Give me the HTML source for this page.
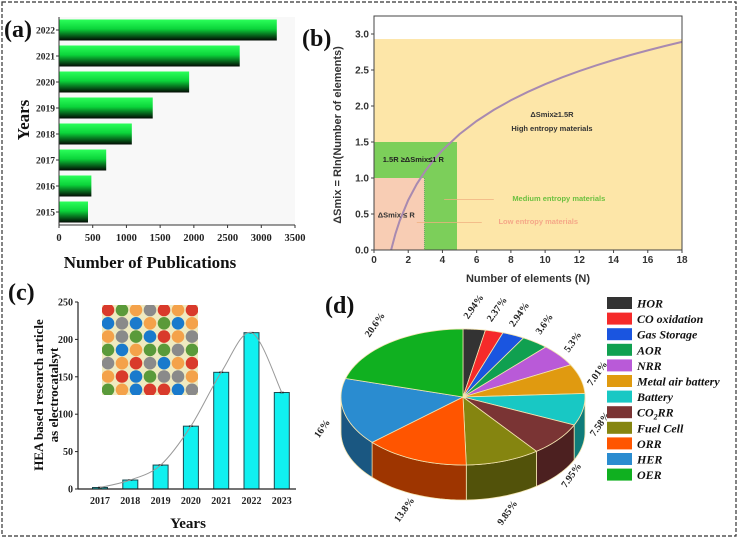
<!DOCTYPE html>
<html><head><meta charset="utf-8">
<style>
html,body{margin:0;padding:0;background:#fff;}
svg{display:block;}
.serif{font-family:"Liberation Serif",serif;font-weight:bold;}
.sans{font-family:"Liberation Sans",sans-serif;font-weight:bold;}
</style></head>
<body>
<svg id="fig" width="738" height="538" viewBox="0 0 738 538" xmlns="http://www.w3.org/2000/svg">
<defs>
<linearGradient id="gbar" x1="0" y1="0" x2="0" y2="1">
<stop offset="0" stop-color="#2bff5a"/><stop offset="0.45" stop-color="#0bd43a"/><stop offset="1" stop-color="#020a03"/>
</linearGradient>
</defs>
<rect x="2" y="2" width="734" height="534" fill="#fff" stroke="#333" stroke-width="1.2" stroke-dasharray="4,2"/>
<g id="pa"></g>
<g id="pb"></g>
<g id="pc"></g>
<g id="pd"></g>
</svg>
<script>
// ---- Panel (a) data
const aYears = ["2015","2016","2017","2018","2019","2020","2021","2022"];
const aValues = [430, 480, 700, 1080, 1390, 1930, 2680, 3230];
const aTicks = [0,500,1000,1500,2000,2500,3000,3500];
// ---- Panel (b) data
const bXTicks = [0,2,4,6,8,10,12,14,16,18];
const bYTicks = [0.0,0.5,1.0,1.5,2.0,2.5,3.0];
const bHighTop = 2.93;
const bMedium = [4.85, 1.5];
const bLow = [2.95, 1.0];
const bCurveN = [1,1.25,1.5,2,2.5,3,3.5,4,5,6,7,8,9,10,11,12,13,14,15,16,17,18];
// ---- Panel (c) data
const cYears = ["2017","2018","2019","2020","2021","2022","2023"];
const cValues = [2, 12, 32, 84, 156, 209, 129];
const cTicks = [0,50,100,150,200,250];
// ---- Panel (d) data
const dLabels = ["HOR","CO oxidation","Gas Storage","AOR","NRR","Metal air battery","Battery","CO2RR","Fuel Cell","ORR","HER","OER"];
const dValues = [2.94,2.37,2.94,3.6,5.3,7.01,7.58,7.95,9.85,13.8,16,20.6];
const dPctText = ["2.94%","2.37%","2.94%","3.6%","5.3%","7.01%","7.58%","7.95%","9.85%","13.8%","16%","20.6%"];
const dColors = ["#333333","#f52a2a","#1a55e0","#10a050","#b95ad8","#e09a10","#18c8c4","#7a3434","#858510","#ff5500","#2a8cd0","#10b020"];

const NS="http://www.w3.org/2000/svg";
function mk(parent, tag, attrs, text){
  const e=document.createElementNS(NS,tag);
  for(const k in attrs) e.setAttribute(k,attrs[k]);
  if(text!==undefined) e.textContent=text;
  parent.appendChild(e); return e;
}
function shade(hex,f){
  const n=parseInt(hex.slice(1),16);
  const r=Math.round(((n>>16)&255)*f),g=Math.round(((n>>8)&255)*f),b=Math.round((n&255)*f);
  return "rgb("+r+","+g+","+b+")";
}

// ================= Panel A =================
(function(){
  const g=document.getElementById('pa');
  const x0=59,x1=295,yTop=17,yBot=225;
  const xs=v=>x0+(v/3500)*(x1-x0);
  const n=aYears.length, step=(yBot-yTop)/n;
  const ys=i=>yBot-step*(i+0.5);
  let t=mk(g,'rect',{x:x0,y:yTop,width:x1-x0,height:yBot-yTop,fill:'#f8f8f8'});
   
  aValues.forEach((v,i)=>{
    const r=mk(g,'rect',{x:x0,y:ys(i)-10.5,width:xs(v)-x0,height:21,fill:'url(#gbar)'});
    
    
    const tl=mk(g,'text',{x:x0-4,y:ys(i)+3.5,'text-anchor':'end','font-size':'9.5',class:'serif',fill:'#222'},aYears[i]);
    
    
    mk(g,'line',{x1:x0-3,x2:x0,y1:ys(i),y2:ys(i),stroke:'#333'});
  });
  mk(g,'line',{x1:x0,x2:x0,y1:yTop,y2:yBot,stroke:'#333','stroke-width':1});
  mk(g,'line',{x1:x0,x2:x1,y1:yBot,y2:yBot,stroke:'#333','stroke-width':1});
  aTicks.forEach(v=>{
    mk(g,'line',{x1:xs(v),x2:xs(v),y1:yBot,y2:yBot+3,stroke:'#333'});
    const tl=mk(g,'text',{x:xs(v),y:yBot+16,'text-anchor':'middle','font-size':'10.5',class:'serif',fill:'#222'},v);
    
    
  });
  t=mk(g,'text',{x:150,y:268,'text-anchor':'middle','font-size':'17',class:'serif',fill:'#111'},'Number of Publications');
   
  t=mk(g,'text',{x:0,y:0,'text-anchor':'middle','font-size':'17',class:'serif',fill:'#111',transform:'translate(29,120) rotate(-90)'},'Years');
   
  t=mk(g,'text',{x:4,y:37,'font-size':'24',class:'serif',fill:'#111'},'(a)');
   
})();

// ================= Panel B =================
(function(){
  const g=document.getElementById('pb');
  const x0=374,x1=682,y0=250,yT=16;
  const xs=v=>x0+v*(x1-x0)/18;
  const ys=v=>y0-v*72;
  let t=mk(g,'rect',{x:x0,y:ys(bHighTop),width:x1-x0,height:y0-ys(bHighTop),fill:'#fde6a8'});
   
  t=mk(g,'rect',{x:x0,y:ys(bMedium[1]),width:xs(bMedium[0])-x0,height:y0-ys(bMedium[1]),fill:'#7ccf5a'});
   
  t=mk(g,'rect',{x:x0,y:ys(bLow[1]),width:xs(bLow[0])-x0,height:y0-ys(bLow[1]),fill:'#f8cdb4'});
   
  mk(g,'line',{x1:xs(bLow[0]),x2:xs(bLow[0]),y1:ys(bLow[1]),y2:y0,stroke:'#6a6',"stroke-dasharray":"1,1"});
  const pts=bCurveN.map(n=>xs(n)+','+ys(Math.log(n))).join(' ');
  t=mk(g,'polyline',{points:pts,fill:'none',stroke:'#a88ab0','stroke-width':2});
   
  mk(g,'rect',{x:x0,y:yT,width:x1-x0,height:y0-yT,fill:'none',stroke:'#444','stroke-width':1});
  bXTicks.forEach(v=>{
    mk(g,'line',{x1:xs(v),x2:xs(v),y1:y0,y2:y0+3,stroke:'#444'});
    const tl=mk(g,'text',{x:xs(v),y:y0+13,'text-anchor':'middle','font-size':'10',class:'sans',fill:'#333'},v);
     
  });
  bYTicks.forEach(v=>{
    mk(g,'line',{x1:x0-3,x2:x0,y1:ys(v),y2:ys(v),stroke:'#444'});
    const tl=mk(g,'text',{x:x0-5,y:ys(v)+3.5,'text-anchor':'end','font-size':'10',class:'sans',fill:'#333'},v.toFixed(1));
     
  });
  t=mk(g,'text',{x:528,y:282,'text-anchor':'middle','font-size':'11',class:'sans',fill:'#333'},'Number of elements (N)');
   
  t=mk(g,'text',{x:0,y:0,'text-anchor':'middle','font-size':'11',class:'sans',fill:'#333',transform:'translate(341,135) rotate(-90)'},'ΔSmix = Rln(Number of elements)');
   
  mk(g,'text',{x:xs(10.4),y:ys(1.85),'text-anchor':'middle','font-size':'7.5',class:'sans',fill:'#333'},'ΔSmix≥1.5R');
  mk(g,'text',{x:xs(10.4),y:ys(1.65),'text-anchor':'middle','font-size':'7.5',class:'sans',fill:'#333'},'High entropy materials');
  mk(g,'text',{x:xs(2.3),y:ys(1.22),'text-anchor':'middle','font-size':'7.5',class:'sans',fill:'#222'},'1.5R ≥ΔSmix≤1 R');
  mk(g,'text',{x:xs(1.3),y:ys(0.45),'text-anchor':'middle','font-size':'7.5',class:'sans',fill:'#333'},'ΔSmix ≤ R');
  mk(g,'line',{x1:xs(4.1),x2:xs(7),y1:ys(0.7),y2:ys(0.7),stroke:'#f0b080','stroke-width':0.8});
  mk(g,'text',{x:xs(10.8),y:ys(0.68),'text-anchor':'middle','font-size':'7.5',class:'sans',fill:'#6cc040'},'Medium entropy materials');
  mk(g,'line',{x1:xs(2.5),x2:xs(6.3),y1:ys(0.38),y2:ys(0.38),stroke:'#f0b080','stroke-width':0.8});
  mk(g,'text',{x:xs(9.6),y:ys(0.36),'text-anchor':'middle','font-size':'7.5',class:'sans',fill:'#f5a888'},'Low entropy materials');
  t=mk(g,'text',{x:302,y:46,'font-size':'24',class:'serif',fill:'#111'},'(b)');
   
})();

// ================= Panel C =================
(function(){
  const g=document.getElementById('pc');
  const x0=78,x1=296,y0=489,yT=302;
  const ys=v=>y0-v*(y0-yT)/250;
  const xs=i=>100+i*30.3;
  const cols=["#d93a2b","#8a8a8a","#f4a24a","#5a9a3a","#1a7acc"];
  const pat=["0321020","4142342","2134021","3423313","1201420","2043112","3240041"];
  mk(g,'rect',{x:102,y:305,width:96,height:90,fill:'#efeac0'});
  const cl=mk(g,'g',{});
  for(let r=0;r<7;r++)for(let c=0;c<7;c++){
    mk(cl,'circle',{cx:102+6+c*14,cy:305+5+r*13.3,r:6.3,fill:cols[+pat[r][c]]});
  }
  const clip=mk(g,'clipPath',{id:'ic'}); mk(clip,'rect',{x:102,y:305,width:96,height:90});
  cl.setAttribute('clip-path','url(#ic)');
   
  cValues.forEach((v,i)=>{
    const r=mk(g,'rect',{x:xs(i)-7.5,y:ys(v),width:15,height:y0-ys(v),fill:'#10f0f0',stroke:'#1a4a50','stroke-width':1});
     
    mk(g,'line',{x1:xs(i)-2,x2:xs(i)+2,y1:ys(v),y2:ys(v),stroke:'#222','stroke-width':1.5});
    const tl=mk(g,'text',{x:xs(i),y:y0+15,'text-anchor':'middle','font-size':'10',class:'serif',fill:'#222'},cYears[i]);
     
  });
  const P=cValues.map((v,i)=>[xs(i),ys(v)]);
  let d='M'+P[0][0]+','+P[0][1];
  for(let i=0;i<P.length-1;i++){
    const p0=P[Math.max(0,i-1)],p1=P[i],p2=P[i+1],p3=P[Math.min(P.length-1,i+2)];
    d+=' C'+(p1[0]+(p2[0]-p0[0])/6)+','+(p1[1]+(p2[1]-p0[1])/6)+' '+(p2[0]-(p3[0]-p1[0])/6)+','+(p2[1]-(p3[1]-p1[1])/6)+' '+p2[0]+','+p2[1];
  }
  let t=mk(g,'path',{d:d,fill:'none',stroke:'#999','stroke-width':1});
   
  mk(g,'line',{x1:x0,x2:x0,y1:yT,y2:y0,stroke:'#222','stroke-width':1.2});
  mk(g,'line',{x1:x0,x2:x1,y1:y0,y2:y0,stroke:'#222','stroke-width':1.2});
  cTicks.forEach(v=>{
    mk(g,'line',{x1:x0-3,x2:x0,y1:ys(v),y2:ys(v),stroke:'#222'});
    const tl=mk(g,'text',{x:x0-5,y:ys(v)+3.5,'text-anchor':'end','font-size':'10',class:'serif',fill:'#222'},v);
     
  });
  t=mk(g,'text',{x:188,y:528,'text-anchor':'middle','font-size':'15',class:'serif',fill:'#111'},'Years');
   
  t=mk(g,'text',{x:0,y:0,'text-anchor':'middle','font-size':'13',class:'serif',fill:'#111',transform:'translate(43,395) rotate(-90)'},'HEA based research article');
   
  mk(g,'text',{x:0,y:0,'text-anchor':'middle','font-size':'13',class:'serif',fill:'#111',transform:'translate(58,395) rotate(-90)'},'as electrocatalsyt');
  t=mk(g,'text',{x:8,y:300,'font-size':'24',class:'serif',fill:'#111'},'(c)');
   
})();

// ================= Panel D =================
(function(){
  const g=document.getElementById('pd');
  const cx=463,cy=397,rx=122,ry=68,dep=35;
  const tot=dValues.reduce((a,b)=>a+b,0);
  const pt=(th,o)=>[cx+rx*Math.sin(th),cy-ry*Math.cos(th)+(o||0)];
  const D=Math.PI/180;
  let a=0; const ang=[];
  dValues.forEach(v=>{ang.push([a,a+v/tot*2*Math.PI]); a+=v/tot*2*Math.PI;});
  ang.forEach((s,i)=>{
    const lo=Math.max(s[0],90*D),hi=Math.min(s[1],270*D);
    if(hi<=lo) return;
    let d='';const N=20;
    for(let k=0;k<=N;k++){const p=pt(lo+(hi-lo)*k/N);d+=(k?'L':'M')+p[0]+','+p[1];}
    for(let k=N;k>=0;k--){const p=pt(lo+(hi-lo)*k/N,dep);d+='L'+p[0]+','+p[1];}
    const e=mk(g,'path',{d:d+'Z',fill:shade(dColors[i],0.62),stroke:'#f3e4b0','stroke-width':0.8});
     
  });
  ang.forEach((s,i)=>{
    let d='M'+cx+','+cy;const N=24;
    for(let k=0;k<=N;k++){const p=pt(s[0]+(s[1]-s[0])*k/N);d+='L'+p[0]+','+p[1];}
    const e=mk(g,'path',{d:d+'Z',fill:dColors[i],stroke:'#f3e4b0','stroke-width':0.8});
     
    const m=(s[0]+s[1])/2;
    const c=Math.cos(m);
    const lx=cx+(rx+20)*Math.sin(m), ly=cy-(ry+(c>0?24:14))*c+(c<0?dep*(-c)+4:0);
    const tl=mk(g,'text',{x:0,y:0,'text-anchor':'middle','font-size':'10',class:'serif',fill:'#222',transform:'translate('+lx+','+(ly+3)+') rotate(-55)'},dPctText[i]);
     
  });
  dLabels.forEach((l,i)=>{
    const y=303+i*15.6;
    const r=mk(g,'rect',{x:607,y:y-6,width:25,height:12,fill:dColors[i]});
     
    const t=mk(g,'text',{x:637,y:y+4.5,'font-size':'12','font-style':'italic',class:'serif',fill:'#111'});
     
    if(l==='CO2RR'){t.textContent='CO';mk(t,'tspan',{'font-size':'8',dy:'3'},'2');mk(t,'tspan',{dy:'-3'},'RR');}
    else t.textContent=l;
  });
  const t=mk(g,'text',{x:325,y:313,'font-size':'24',class:'serif',fill:'#111'},'(d)');
   
})();
</script>
</body></html>
